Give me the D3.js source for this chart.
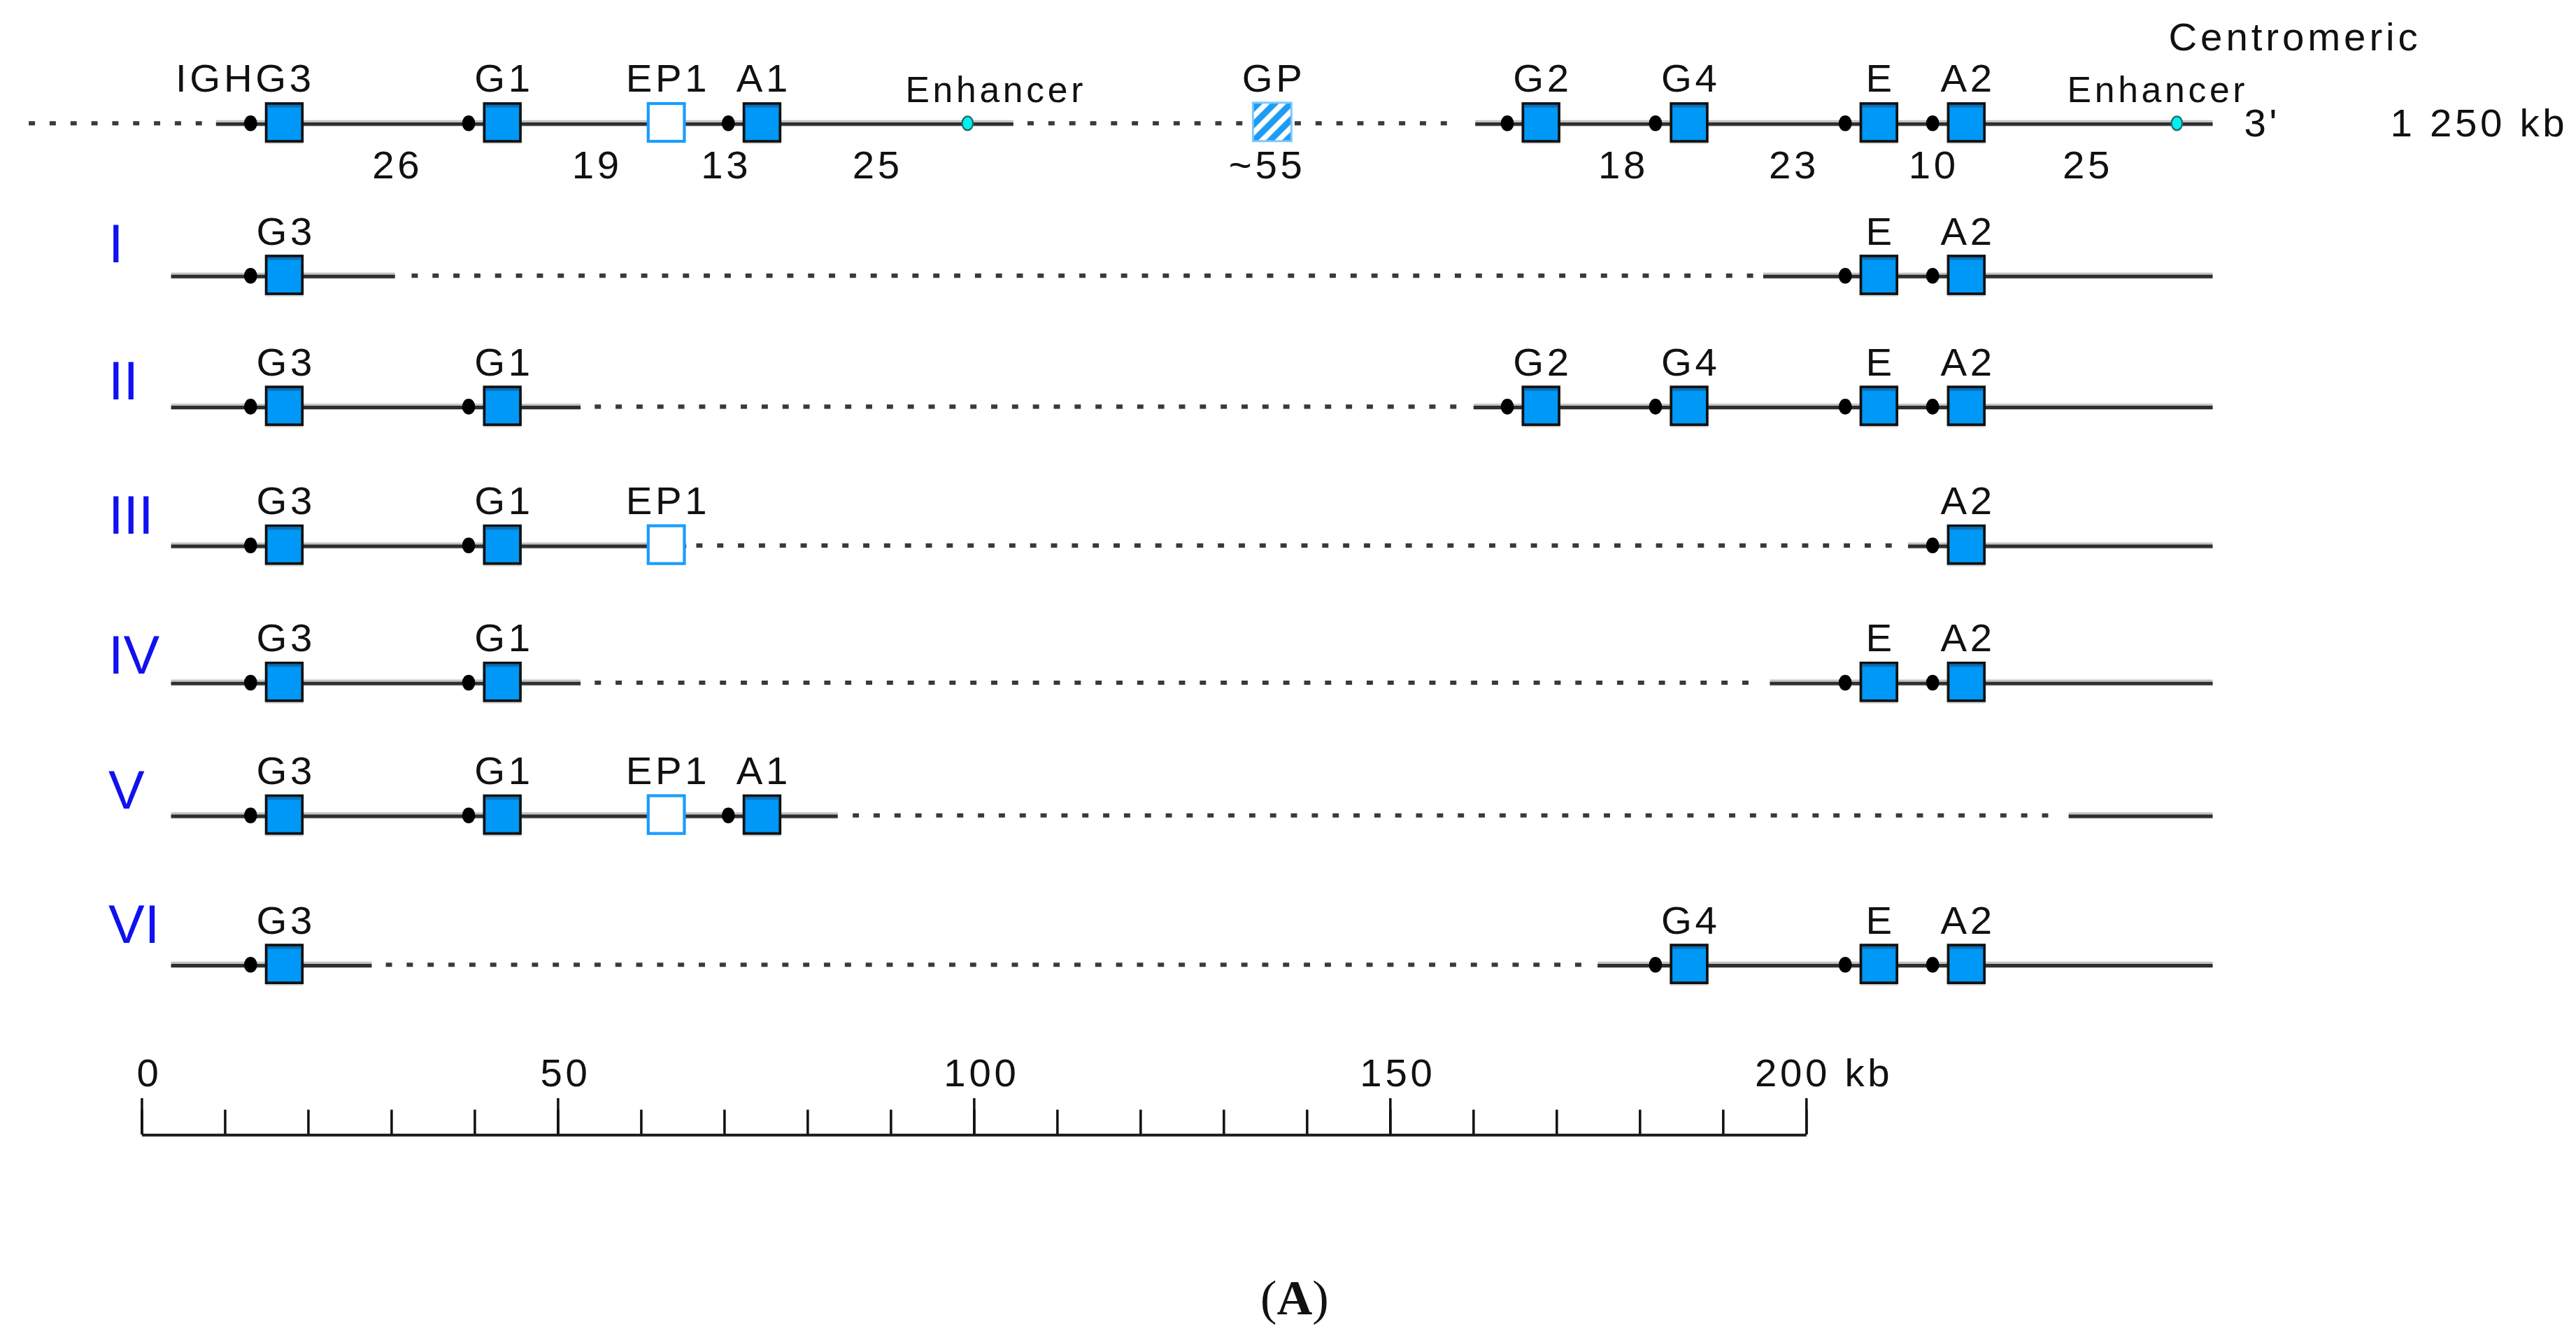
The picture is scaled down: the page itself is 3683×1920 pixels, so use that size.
<!DOCTYPE html>
<html>
<head>
<meta charset="utf-8">
<script src="https://cdn.jsdelivr.net/npm/d3@7"></script>
<style>
  body { margin: 0; background: #fff; }
  svg { display: block; }
</style>
</head>
<body>
<div id="chart"></div>
<script>
// ---- data (positions in kb) ----
const genes = ["G3", "G1", "EP1", "A1", "G2", "G4", "E", "A2"];
const geneKb = [17.2, 43.4, 63.1, 74.6, 168.2, 186.0, 208.8, 219.3];
const geneIsPseudo = [false, false, true, false, false, false, false, false];
const geneHasSwitch = [true, true, false, true, true, true, true, true];

const pseudoNames = ["GP"];
const pseudoKb = [135.9];

const enhancerKb = [99.3, 244.6];
const enhancerLabelKb = [102.5, 242.1];

const spacingLabels = ["26", "19", "13", "25", "~55", "18", "23", "10", "25"];
const spacingKb = [30.6, 54.6, 70.1, 88.3, 135.1, 177.9, 198.4, 215.2, 233.7];

const topSolid = [[9.0, 104.8], [160.3, 248.9]];
const topDotted = [[-13.5, 7.5], [106.5, 133.3], [138.6, 158.3]];

const haplotypes = ["I", "II", "III", "IV", "V", "VI"];
const hapGenes = [
  ["G3", "E", "A2"],
  ["G3", "G1", "G2", "G4", "E", "A2"],
  ["G3", "G1", "EP1", "A2"],
  ["G3", "G1", "E", "A2"],
  ["G3", "G1", "EP1", "A1"],
  ["G3", "G4", "E", "A2"]
];
const hapSolid = [
  [[3.6, 30.5], [194.9, 248.9]],
  [[3.6, 52.8], [160.1, 248.9]],
  [[3.6, 65.5], [212.3, 248.9]],
  [[3.6, 52.8], [195.7, 248.9]],
  [[3.6, 83.7], [231.6, 248.9]],
  [[3.6, 27.7], [175.0, 248.9]]
];
const hapDotted = [
  [[32.5, 194.2]],
  [[54.5, 159.4]],
  [[66.7, 210.5]],
  [[54.5, 193.6]],
  [[85.5, 230.0]],
  [[29.4, 173.5]]
];

const tickMinor = d3.range(0, 201, 10);
const tickMajor = [0, 50, 100, 150, 200];
const tickLabels = ["0", "50", "100", "150", "200 kb"];

// ---- layout ----
const W = 1568, H = 817.4;
const topY = 75;
const rowYs = [167.8, 247.5, 332, 415.5, 496.3, 587.2];
const numeralLift = [8.3, 4.6, 7.2, 5.5, 4.3, 13.5];
const axisY = 690.4;
const font = "'Liberation Sans', Arial, sans-serif";
const boxW = 22, boxH = 23;
const switchOffset = 20.5;

const svg = d3.select("#chart").append("svg")
  .attr("width", 3683).attr("height", 1920)
  .attr("viewBox", `0 0 ${W} ${H}`);

const x = d3.scaleLinear().domain([0, 200]).range([85.9, 1099.1]);
const rowY = d3.scaleOrdinal().domain(haplotypes).range(rowYs);
const kbOf = name => geneKb[genes.indexOf(name)];

const defs = svg.append("defs");
const hatch = defs.append("pattern")
  .attr("id", "hatch").attr("patternUnits", "userSpaceOnUse")
  .attr("width", 7).attr("height", 7)
  .attr("patternTransform", "rotate(45)");
hatch.append("rect").attr("width", 7).attr("height", 7).attr("fill", "#1e9cf2");
hatch.append("rect").attr("width", 3.2).attr("height", 7).attr("fill", "#fff");

function drawSolid(g, segs, y) {
  segs.forEach(s => {
    g.append("line").attr("x1", x(s[0])).attr("x2", x(s[1]))
      .attr("y1", y).attr("y2", y)
      .attr("stroke", "#c4c4c4").attr("stroke-width", 3.8);
    g.append("line").attr("x1", x(s[0])).attr("x2", x(s[1]))
      .attr("y1", y + 0.5).attr("y2", y + 0.5)
      .attr("stroke", "#2e2e2e").attr("stroke-width", 2.1);
  });
}

function drawDotted(g, segs, y) {
  segs.forEach(s => {
    g.append("line").attr("x1", x(s[0])).attr("x2", x(s[1]))
      .attr("y1", y).attr("y2", y)
      .attr("stroke", "#3a3a3a").attr("stroke-width", 2.6)
      .attr("stroke-dasharray", "3.8 8.9");
  });
}

function drawGene(g, name, y) {
  const i = genes.indexOf(name);
  const cx = x(geneKb[i]);
  if (geneHasSwitch[i]) {
    g.append("ellipse").attr("cx", cx - switchOffset).attr("cy", y)
      .attr("rx", 4).attr("ry", 4.8).attr("fill", "#000");
  }
  if (geneIsPseudo[i]) {
    g.append("rect").attr("x", cx - boxW / 2).attr("y", y - 12)
      .attr("width", boxW).attr("height", boxH)
      .attr("fill", "#fff").attr("stroke", "#1a9dff").attr("stroke-width", 1.8);
  } else {
    g.append("rect").attr("x", cx - boxW / 2 - 0.5).attr("y", y + 10.5)
      .attr("width", boxW + 1).attr("height", 2.2).attr("fill", "#d8d8d8");
    g.append("rect").attr("x", cx - boxW / 2).attr("y", y - 12)
      .attr("width", boxW).attr("height", boxH)
      .attr("fill", "#0098f6").attr("stroke", "#111").attr("stroke-width", 1.6);
    g.append("rect").attr("x", cx - boxW / 2 + 0.8).attr("y", y - 11.2)
      .attr("width", boxW - 1.6).attr("height", 1.6).attr("fill", "#0a6fb8");
  }
}

function geneLabel(g, text, cx, y, anchor) {
  g.append("text").attr("x", cx).attr("y", y)
    .attr("dx", anchor === "end" ? 2 : 1)
    .attr("text-anchor", anchor || "middle")
    .attr("font-family", font).attr("font-size", 24)
    .attr("letter-spacing", 2).attr("fill", "#111")
    .text(text);
}

// ---- reference locus (top row) ----
const locus = svg.append("g");
drawDotted(locus, topDotted, topY);
drawSolid(locus, topSolid, topY);

enhancerKb.forEach((kb, i) => {
  locus.append("ellipse").attr("cx", x(kb)).attr("cy", topY)
    .attr("rx", 3.3).attr("ry", 4.2)
    .attr("fill", "#00f0f0").attr("stroke", "#256b6b").attr("stroke-width", 1);
  locus.append("text").attr("x", x(enhancerLabelKb[i])).attr("y", 62).attr("dx", 1)
    .attr("text-anchor", "middle").attr("font-family", font)
    .attr("font-size", 22).attr("letter-spacing", 2).attr("fill", "#111")
    .text("Enhancer");
});

pseudoNames.forEach((name, i) => {
  const cx = x(pseudoKb[i]);
  locus.append("rect").attr("x", cx - 11.7).attr("y", topY - 12.5)
    .attr("width", 23.4).attr("height", 23.4)
    .attr("fill", "url(#hatch)").attr("stroke", "#7cc6ff").attr("stroke-width", 1.2);
  geneLabel(locus, name, cx, 55.8);
});

genes.forEach(name => {
  drawGene(locus, name, topY);
  if (name === "G3") geneLabel(locus, "IGHG3", x(kbOf(name)) + 16.5, 55.8, "end");
  else geneLabel(locus, name, x(kbOf(name)), 55.8);
});

spacingLabels.forEach((t, i) => {
  locus.append("text").attr("x", x(spacingKb[i])).attr("y", 108.6).attr("dx", 1)
    .attr("text-anchor", "middle").attr("font-family", font)
    .attr("font-size", 24).attr("letter-spacing", 2).attr("fill", "#111")
    .text(t);
});

locus.append("text").attr("x", 1366).attr("y", 83)
  .attr("font-family", font).attr("font-size", 24).attr("letter-spacing", 2)
  .attr("fill", "#111").text("3'");
locus.append("text").attr("x", 1455).attr("y", 83)
  .attr("font-family", font).attr("font-size", 24).attr("letter-spacing", 2)
  .attr("fill", "#111").text("1 250 kb");
locus.append("text").attr("x", 1320).attr("y", 30.6)
  .attr("font-family", font).attr("font-size", 24).attr("letter-spacing", 2.1)
  .attr("fill", "#111").text("Centromeric");

// ---- haplotypes ----
haplotypes.forEach((h, r) => {
  const y = rowY(h);
  const g = svg.append("g");
  drawDotted(g, hapDotted[r], y);
  drawSolid(g, hapSolid[r], y);
  hapGenes[r].forEach(name => {
    drawGene(g, name, y);
    geneLabel(g, name, x(kbOf(name)), y - 19);
  });
  g.append("text").attr("x", 66).attr("y", y - numeralLift[r])
    .attr("font-family", font).attr("font-size", 33)
    .attr("fill", "#1010f0").text(h);
});

// ---- scale bar ----
const minorAxis = d3.axisTop(x).tickValues(tickMinor)
  .tickSize(15).tickSizeOuter(0).tickFormat("");
const majorAxis = d3.axisTop(x).tickValues(tickMajor)
  .tickSize(22).tickSizeOuter(0).tickPadding(7.4)
  .tickFormat((d, i) => tickLabels[i]);

const ga = svg.append("g").attr("transform", `translate(0,${axisY})`).call(minorAxis);
ga.select(".domain").remove();
const gb = svg.append("g").attr("transform", `translate(0,${axisY})`).call(majorAxis);
[ga, gb].forEach(g => {
  g.attr("font-family", font).attr("font-size", 24);
  g.selectAll(".tick line").attr("stroke", "#111").attr("stroke-width", 1.5);
});
gb.select(".domain").attr("stroke", "#1a1a1a").attr("stroke-width", 1.7);
gb.selectAll(".tick text")
  .attr("fill", "#111").attr("letter-spacing", 2)
  .attr("dx", d => d === 200 ? 10.6 : 4.5);

// ---- caption ----
const cap = svg.append("text").attr("x", 788).attr("y", 800)
  .attr("text-anchor", "middle").attr("font-family", "'Liberation Serif', 'Times New Roman', serif")
  .attr("font-size", 30).attr("fill", "#111");
cap.append("tspan").text("(");
cap.append("tspan").attr("font-weight", "bold").text("A");
cap.append("tspan").text(")");
</script>
</body>
</html>
